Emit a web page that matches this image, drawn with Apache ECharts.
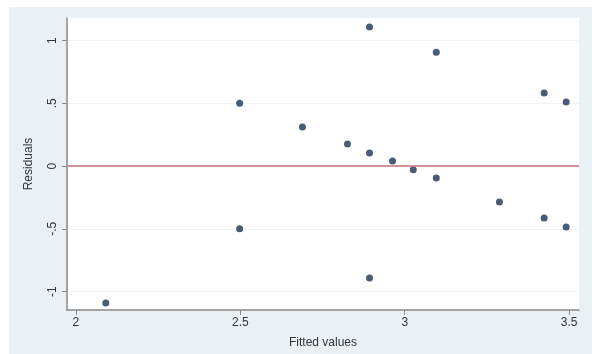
<!DOCTYPE html>
<html><head><meta charset="utf-8">
<script src="https://cdn.jsdelivr.net/npm/echarts@6/dist/echarts.min.js"></script>
<style>html,body{margin:0;padding:0;background:#fff}#c{width:592px;height:354px}</style>
</head><body><div id="c"></div>
<script>
const fitted = [2.091, 2.498, 2.498, 2.689, 2.826, 2.893, 2.893, 2.893, 2.963, 3.026, 3.096, 3.096, 3.288, 3.424, 3.424, 3.491, 3.491];
const residuals = [-1.092, 0.50, -0.50, 0.311, 0.175, 0.104, 1.108, -0.892, 0.04, -0.03, -0.096, 0.908, -0.287, 0.582, -0.414, 0.51, -0.486];
const xTicks = [2, 2.5, 3, 3.5];
const yTicks = [-1, -0.5, 0, 0.5, 1];
const xTitle = 'Fitted values';
const yTitle = 'Residuals';

function fmt(v){ let s = String(v); return s.replace(/^0\./,'.').replace(/^-0\./,'-.'); }

const chart = echarts.init(document.getElementById('c'), null, {renderer:'canvas'});
chart.setOption({
  animation:false,
  backgroundColor:'#ffffff',
  graphic:[{type:'rect', z:-10, shape:{x:9,y:7,width:583,height:347}, style:{fill:'#eaf0f3'}},
           {type:'rect', z:-9, shape:{x:67,y:18,width:512,height:292}, style:{fill:'#ffffff'}}],
  grid:{left:67, top:18, right:13, bottom:44, containLabel:false},
  xAxis:{type:'value', min:1.973, max:3.53,
    name:xTitle, nameLocation:'middle', nameGap:27,
    nameTextStyle:{color:'#333', fontSize:12, fontFamily:'Liberation Sans'},
    axisLine:{show:true, onZero:false, lineStyle:{color:'#8a8a8a', width:1.5}},
    axisTick:{show:true, length:5, lineStyle:{color:'#8a8a8a'}, customValues:xTicks},
    axisLabel:{customValues:xTicks, formatter:fmt, color:'#333', fontSize:12, fontFamily:'Liberation Sans', margin:7},
    splitLine:{show:false}},
  yAxis:{type:'value', min:-1.147, max:1.18,
    name:yTitle, nameLocation:'middle', nameGap:32, nameRotate:90,
    nameTextStyle:{color:'#333', fontSize:12, fontFamily:'Liberation Sans'},
    axisLine:{show:true, onZero:false, lineStyle:{color:'#8a8a8a', width:1.5}},
    axisTick:{show:true, length:5, lineStyle:{color:'#8a8a8a'}, customValues:yTicks},
    axisLabel:{customValues:yTicks, formatter:fmt, rotate:90, color:'#333', fontSize:12, fontFamily:'Liberation Sans', margin:8},
    splitLine:{show:true, lineStyle:{color:'#eef3f4', width:1}}},
  series:[{
    type:'scatter',
    data: fitted.map((x,i)=>[x, residuals[i]]),
    symbolSize:7,
    itemStyle:{color:'#1a3453'},
    markLine:{silent:true, symbol:'none', label:{show:false},
      lineStyle:{color:'#c7707d', width:1.5, type:'solid'},
      data:[{yAxis:0}]}
  }]
});
</script></body></html>
